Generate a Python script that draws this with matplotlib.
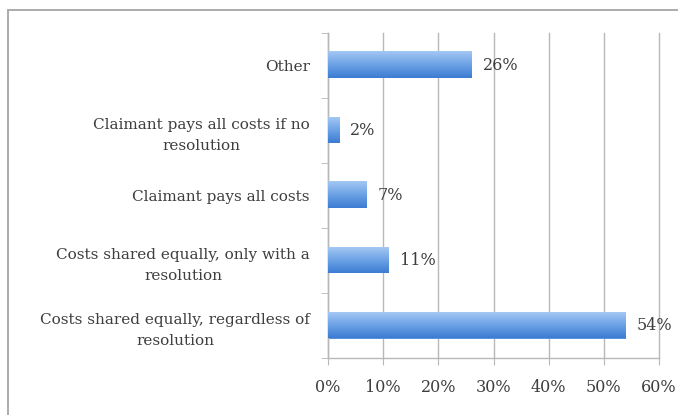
import numpy as np
import matplotlib.pyplot as plt
from matplotlib.colors import LinearSegmentedColormap
from matplotlib.patches import Rectangle
from matplotlib.ticker import FuncFormatter

# responses, listed bottom to top
categories = [
    "Costs shared equally, regardless of\nresolution",
    "Costs shared equally, only with a\nresolution",
    "Claimant pays all costs",
    "Claimant pays all costs if no\nresolution",
    "Other",
]
shares = [54, 11, 7, 2, 26]
x_ticks = [0, 10, 20, 30, 40, 50, 60]

plt.rcParams['font.family'] = ['DejaVu Serif', 'Liberation Serif']
text_color = '#3e3e3e'
grid_color = '#b8b8b8'

fig = plt.figure(figsize=(6.78, 4.15), dpi=100)
fig.patch.set_facecolor('white')

# outer chart border
fig.add_artist(Rectangle((8 / 678, -0.05), 1.0, 1 - 10 / 415 + 0.05,
                         transform=fig.transFigure, fill=False,
                         edgecolor='#ababab', linewidth=1.4))

ax = fig.add_axes([328 / 678, 1 - 358 / 415, (659 - 328) / 678, (358 - 33) / 415])

y = np.arange(len(categories))
bar_h = 0.4
cmap = LinearSegmentedColormap.from_list('bar', ['#3c7cd2', '#6ca2e6', '#a3c7f3'])
grad = np.linspace(0, 1, 64).reshape(-1, 1)

bars = ax.barh(y, shares, height=bar_h, color='#5a94df', edgecolor='none', zorder=2)
for b in bars:
    x0, y0 = b.get_x(), b.get_y()
    w, h = b.get_width(), b.get_height()
    ax.imshow(grad, cmap=cmap, aspect='auto', origin='lower',
              extent=(x0, x0 + w, y0, y0 + h), zorder=3)

for yi, v in zip(y, shares):
    ax.text(v + 2.0, yi, f"{v}%", va='center', ha='left',
            fontsize=11.5, color=text_color, zorder=4)

ax.set_xlim(0, 60)
ax.set_ylim(-0.5, len(categories) - 0.5)
ax.set_xticks(x_ticks)
ax.xaxis.set_major_formatter(FuncFormatter(lambda v, _: f"{v:.0f}%"))
ax.grid(axis='x', color=grid_color, linewidth=1.0, zorder=0)
for gl in ax.get_xgridlines():
    gl.set_clip_on(False)

ax.set_yticks(y)
ax.set_yticklabels(categories, ha='right', multialignment='center', linespacing=1.6)
ax.set_yticks(np.arange(-0.5, len(categories)), minor=True)
ax.tick_params(axis='y', which='major', length=0, pad=13,
               labelsize=11, labelcolor=text_color)
ax.tick_params(axis='y', which='minor', length=5, color=grid_color, direction='out')
ax.tick_params(axis='x', length=5, color=grid_color, direction='out', pad=10,
               labelsize=11.5, labelcolor=text_color)

for side in ('top', 'right'):
    ax.spines[side].set_visible(False)
for side in ('left', 'bottom'):
    ax.spines[side].set_color(grid_color)
    ax.spines[side].set_linewidth(1.0)

fig.savefig('out.png', dpi=100, facecolor='white')
